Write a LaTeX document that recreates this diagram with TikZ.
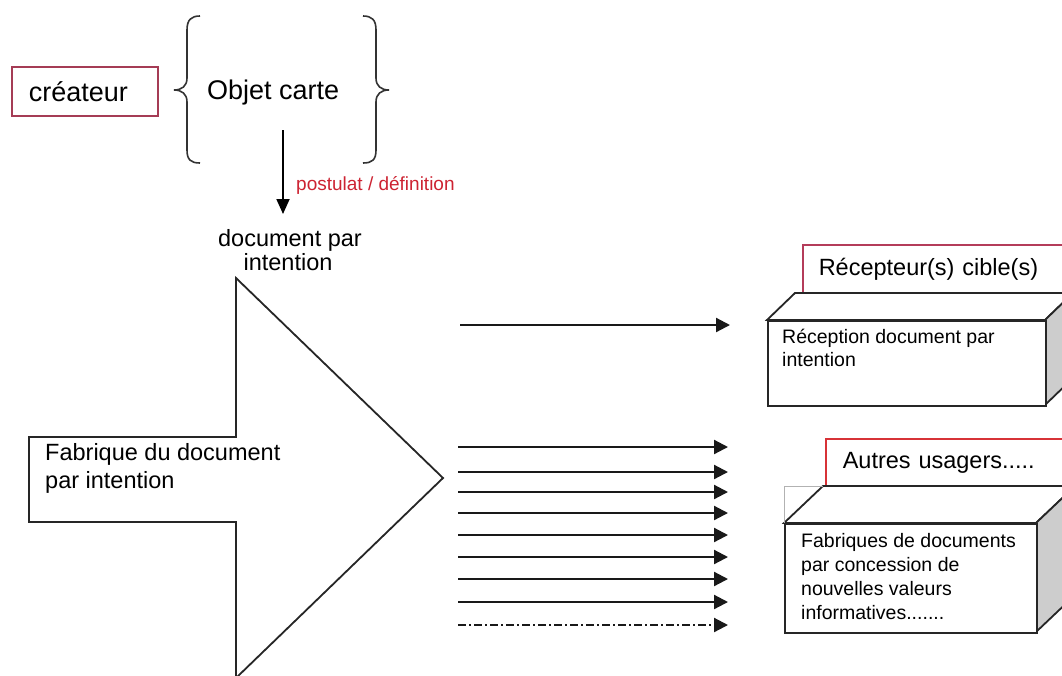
\documentclass[tikz,border=0pt]{standalone}
\usepackage{fontspec}
\setmainfont{Liberation Sans}
\usetikzlibrary{arrows.meta}
\definecolor{boxred}{RGB}{165,60,85}
\definecolor{recred}{RGB}{180,60,90}
\definecolor{autred}{RGB}{215,50,55}
\definecolor{labred}{RGB}{205,35,50}
\definecolor{sidegray}{RGB}{205,205,205}
\begin{document}
\begin{tikzpicture}[x=1pt,y=-1pt,
  txt/.style={inner sep=0pt, anchor=base west},
  ctxt/.style={inner sep=0pt, anchor=base},
  big/.style={font=\fontsize{27}{30}\selectfont},
  mid/.style={font=\fontsize{23.5}{27}\selectfont},
  small/.style={font=\fontsize{19.5}{23}\selectfont},
  flow/.style={line width=2.2pt, draw=black!90, -{Triangle[length=14pt,width=14pt]}},
  downarrow/.style={line width=1.8pt, -{Triangle[length=15pt,width=13pt]}},
  outline/.style={draw=black!85, line width=1.8pt},
  faint/.style={draw=black!30, line width=1pt},
  bracestyle/.style={draw=black!80, line width=1.6pt},
  redframe/.style={line width=1.5pt, fill=white},
  front/.style={outline, fill=white, anchor=north west, inner sep=0pt},
  side/.style={outline, fill=sidegray},
  topface/.style={outline, fill=white}
]
\useasboundingbox (0,0) rectangle (1062,675);
\fill[white] (0,0) rectangle (1062,675);
\clip (0,0) rectangle (1062,675);

% createur
\node[redframe, draw=boxred, line width=1.9pt, anchor=north west, minimum width=146pt, minimum height=49pt,
      text width=112pt, inner xsep=17pt, inner ysep=0pt, align=left, big]
      (createur) at (11,66) {créateur};

% braces and Objet carte
\draw[bracestyle] (200,16) .. controls (191,16) and (187,20) .. (187,30)
  -- (187,78) .. controls (187,86) and (182,90) .. (174,90)
  .. controls (182,90) and (187,94) .. (187,102)
  -- (187,150) .. controls (187,160) and (191,163) .. (200,163);
\draw[bracestyle] (363,16) .. controls (372,16) and (376,20) .. (376,30)
  -- (376,78) .. controls (376,86) and (381,90) .. (389,90)
  .. controls (381,90) and (376,94) .. (376,102)
  -- (376,150) .. controls (376,160) and (372,163) .. (363,163);
\node[txt, big] (objet) at (207,99) {Objet carte};

% down arrow
\coordinate (d0) at (283,130);
\coordinate (d1) at (283,214);
\draw[downarrow] (d0) -- (d1);
\node[txt, font=\fontsize{19}{22}\selectfont, text=labred] (post) at (296,190) {postulat / définition};

\node[ctxt, mid] (doc1) at (290,246) {document par};
\node[ctxt, mid] (doc2) at (288,270) {intention};

% big arrow
\draw[outline, fill=white] (29,437) -- (236,437) -- (236,278) -- (443,478)
  -- (236,678) -- (236,522) -- (29,522) -- cycle;
\node[txt, mid] (fab1) at (45,460) {Fabrique du document};
\node[txt, mid] (fab2) at (45,488) {par intention};

% arrows
\coordinate (t0) at (460,325);
\coordinate (t1) at (730,325);
\draw[flow] (t0) -- (t1);
\foreach \yy [count=\i] in {447,472,492,513,535,557,579,602} {
  \coordinate (s\i) at (458,\yy);
  \coordinate (e\i) at (728,\yy);
  \draw[flow] (s\i) -- (e\i);
}
\coordinate (s9) at (458,625);
\coordinate (e9) at (728,625);
\draw[flow, dash pattern=on 8pt off 3pt on 2pt off 3pt] (s9) -- (e9);

% box 1
\node[redframe, draw=recred, anchor=north west, minimum width=290pt, minimum height=49pt,
      text width=258pt, inner xsep=16pt, inner ysep=0pt, align=left, mid]
      (rec) at (802,244) {Récepteur(s) cible(s)};
\draw[topface] (767,320) -- (795,293) -- (1073,293) -- (1045,320) -- cycle;
\draw[side] (1045,320) -- (1073,293) -- (1073,378) -- (1045,405) -- cycle;
\node[front, minimum width=278pt, minimum height=85pt] (recfront) at (767,320) {};
\node[txt, small] (rt1) at (782,343) {Réception document par};
\node[txt, small] (rt2) at (782,366) {intention};

% box 2
\node[redframe, draw=autred, anchor=north west, minimum width=260pt, minimum height=48pt,
      text width=226pt, inner xsep=17pt, inner ysep=0pt, align=left, mid]
      (autres) at (825,438) {Autres usagers.....};
\draw[topface] (784,523) -- (823,486) -- (1075,486) -- (1036,523) -- cycle;
\draw[faint] (784,523) -- (784,486) -- (823,486);
\draw[side] (1036,523) -- (1075,486) -- (1075,595) -- (1036,632) -- cycle;
\node[front, minimum width=252pt, minimum height=109pt] (autfront) at (784,523) {};
\node[txt, small] (at1) at (801,547) {Fabriques de documents};
\node[txt, small] (at2) at (801,571) {par concession de};
\node[txt, small] (at3) at (801,595) {nouvelles valeurs};
\node[txt, small] (at4) at (801,619) {informatives.......};
\end{tikzpicture}
\end{document}
